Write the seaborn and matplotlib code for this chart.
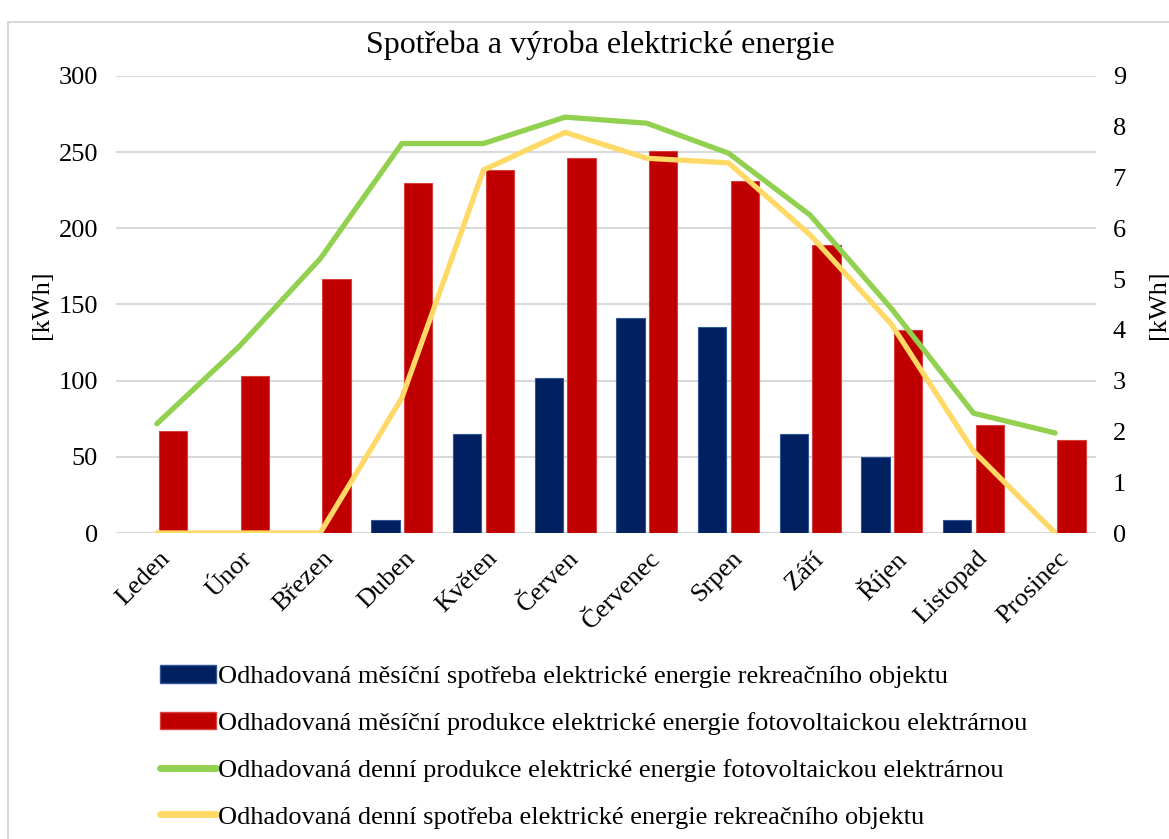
import numpy as np
import pandas as pd
import matplotlib
matplotlib.use("Agg")
import matplotlib.pyplot as plt
import matplotlib.transforms as mtransforms
from matplotlib.patches import Patch, Rectangle
from matplotlib.lines import Line2D
import seaborn as sns

months = ["Leden", "Únor", "Březen", "Duben", "Květen", "Červen",
          "Červenec", "Srpen", "Září", "Říjen", "Listopad", "Prosinec"]
monthly_consumption = [np.nan, np.nan, np.nan, 8.5, 65, 102, 141, 135, 65, 50, 8.5, np.nan]
monthly_production = [67, 103, 167, 230, 238, 246, 251, 231, 189, 133, 71, 61]
daily_production = [2.15, 3.66, 5.40, 7.67, 7.67, 8.19, 8.07, 7.48, 6.26, 4.41, 2.36, 1.97]
daily_consumption = [0, 0, 0, 2.66, 7.15, 7.89, 7.38, 7.29, 5.87, 4.10, 1.61, 0]

lab_cons_m = "Odhadovaná měsíční spotřeba elektrické energie rekreačního objektu"
lab_prod_m = "Odhadovaná měsíční produkce elektrické energie fotovoltaickou elektrárnou"
lab_prod_d = "Odhadovaná denní produkce elektrické energie fotovoltaickou elektrárnou"
lab_cons_d = "Odhadovaná denní spotřeba elektrické energie rekreačního objektu"
title = "Spotřeba a výroba elektrické energie"

c_blue = "#002060"
c_red = "#C00000"
c_green = "#92D050"
c_yellow = "#FFD966"

sns.set_theme(style="white")
plt.rcParams["font.family"] = ["Liberation Serif", "DejaVu Serif"]
plt.rcParams["text.color"] = "black"
plt.rcParams["axes.labelcolor"] = "black"
plt.rcParams["xtick.color"] = "black"
plt.rcParams["ytick.color"] = "black"

df = pd.DataFrame({
    "month": months * 2,
    "series": [lab_cons_m] * 12 + [lab_prod_m] * 12,
    "value": monthly_consumption + monthly_production,
})

fig = plt.figure(figsize=(11.69, 8.39), dpi=100)
ax = fig.add_axes([116 / 1169, 1 - 533 / 839, (1096 - 116) / 1169, (533 - 76) / 839])

sns.barplot(data=df, x="month", y="value", hue="series", order=months,
            hue_order=[lab_cons_m, lab_prod_m],
            palette=[c_blue, c_red], width=0.8, gap=0.14, ax=ax,
            legend=False, saturation=1, linewidth=0.8)
for p in ax.patches:
    fc = p.get_facecolor()
    if np.allclose(fc[:3], matplotlib.colors.to_rgb(c_blue), atol=0.02):
        p.set_edgecolor("#2F5597")
    else:
        p.set_edgecolor("#D84040")

TS = 19
ax.set_ylim(0, 300)
ax.set_yticks(range(0, 301, 50))
ax.set_xlim(-0.5, 11.5)
ax.yaxis.grid(True, color="#D9D9D9", linewidth=1.5)
ax.set_axisbelow(True)
for s in ax.spines.values():
    s.set_visible(False)
ax.set_xlabel("")
ax.set_ylabel("[kWh]", fontsize=TS, labelpad=4)
ax.tick_params(axis="both", length=0, labelsize=TS)
ax.tick_params(axis="y", pad=13)
ax.set_xticks(range(len(months)))
ax.set_xticklabels(months, rotation=45, ha="right", va="center",
                   rotation_mode="anchor", fontsize=TS)
ax.tick_params(axis="x", pad=16)
shift = mtransforms.ScaledTranslation(10 / 100, 0, fig.dpi_scale_trans)
for lbl in ax.get_xticklabels():
    lbl.set_transform(lbl.get_transform() + shift)

ax2 = ax.twinx()
x = np.arange(len(months))
sns.lineplot(x=x, y=daily_production, color=c_green, linewidth=3.8, ax=ax2,
             solid_capstyle="round")
sns.lineplot(x=x, y=daily_consumption, color=c_yellow, linewidth=3.8, ax=ax2,
             solid_capstyle="round")
ax2.set_ylim(0, 9)
ax2.set_yticks(range(0, 10))
for s in ax2.spines.values():
    s.set_visible(False)
ax2.tick_params(axis="y", length=0, labelsize=TS, pad=12)
ax2.set_ylabel("[kWh]", fontsize=TS, labelpad=16)
ax2.grid(False)

ax.axhline(0, color="#D9D9D9", linewidth=1.5, zorder=0.5)

fig.text(0.514, 0.946, title, ha="center", va="center", fontsize=23)

handles = [
    Patch(facecolor=c_blue, edgecolor="#2F5597"),
    Patch(facecolor=c_red, edgecolor="#D84040"),
    Line2D([0], [0], color=c_green, linewidth=5),
    Line2D([0], [0], color=c_yellow, linewidth=5),
]
fig.legend(handles, [lab_cons_m, lab_prod_m, lab_prod_d, lab_cons_d],
           loc="upper left", bbox_to_anchor=(0.128, 0.220), frameon=False,
           fontsize=19, handlelength=2.1, handleheight=0.65, handletextpad=0.1,
           labelspacing=0.9, borderaxespad=0)

fig.patches.append(Rectangle((8 / 1169, -0.05), 1.1, 1 - 22 / 839 + 0.05,
                             transform=fig.transFigure, fill=False,
                             edgecolor="#D9D9D9", linewidth=1.5))

fig.savefig("out.png", dpi=100)
